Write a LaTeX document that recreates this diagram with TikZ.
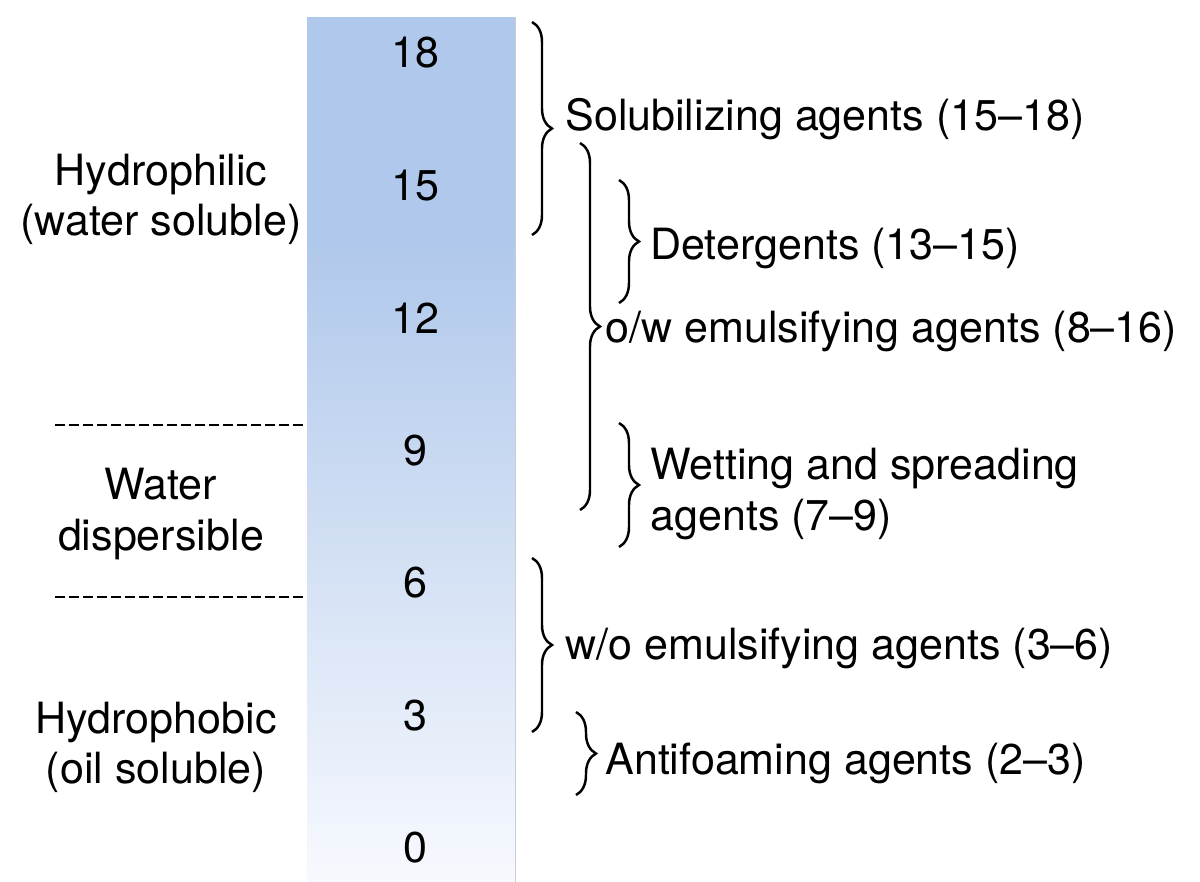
\documentclass[tikz,border=0pt]{standalone}
\usepackage{fontspec}
\setmainfont{TeX Gyre Heros}
\usetikzlibrary{decorations.pathreplacing,positioning}

\definecolor{barblue}{RGB}{176,200,235}
\definecolor{barpale}{RGB}{247,249,254}
\definecolor{baredge}{RGB}{200,206,216}
\pgfdeclareverticalshading{hlbshade}{100bp}{color(0bp)=(barpale); color(25bp)=(barpale); color(62bp)=(barblue); color(75bp)=(barblue); color(100bp)=(barblue)}

\begin{document}
\begin{tikzpicture}[
    x=0.02cm, y=-0.02cm,
    every node/.style={font=\fontsize{24.5}{28.5}\selectfont, inner sep=0pt},
    hlbbar/.style={shade, shading=hlbshade, minimum width=4.16cm, minimum height=17.3cm},
    zone/.style={align=center},
    uselabel/.style={align=left, anchor=west},
    hlbbrace/.style={decorate, decoration={brace, amplitude=0.4cm}, line width=1.4pt},
    divider/.style={dash pattern=on 0.2cm off 0.08cm, line width=0.8pt}
  ]
  \useasboundingbox (0,0) rectangle (1200,882);

  % HLB scale
  \node[hlbbar] (bar) at (411,449.5) {};
  \draw[baredge, line width=0.6pt] (bar.north east) -- (bar.south east);
  \node (n18) at (415,53) {18};
  \node (n15) at (415,186) {15};
  \node (n12) at (415,318) {12};
  \node (n9) at (415,451) {9};
  \node (n6) at (415,583) {6};
  \node (n3) at (415,716) {3};
  \node (n0) at (415,848) {0};

  % zones on the left
  \draw[divider] (55,425) -- (bar.west |- 0,425);
  \draw[divider] (55,597) -- (bar.west |- 0,597);
  \node[zone] (philic) at (161,199) {Hydrophilic\\(water soluble)};
  \node[zone] (disp) at (161,514) {Water\\dispersible};
  \node[zone] (phobic) at (156,747) {Hydrophobic\\(oil soluble)};

  % uses on the right
  \coordinate (sol top) at (532,22);
  \coordinate (sol bot) at (532,235);
  \coordinate (ow top) at (580,143);
  \coordinate (ow bot) at (580,510);
  \coordinate (det top) at (619,180);
  \coordinate (det bot) at (619,303);
  \coordinate (wet top) at (619,423);
  \coordinate (wet bot) at (619,547);
  \coordinate (wo top) at (532,558);
  \coordinate (wo bot) at (532,732);
  \coordinate (anti top) at (576,712);
  \coordinate (anti bot) at (576,795);

  \draw[hlbbrace] (sol top) -- (sol bot);
  \draw[hlbbrace] (ow top) -- (ow bot);
  \draw[hlbbrace] (det top) -- (det bot);
  \draw[hlbbrace] (wet top) -- (wet bot);
  \draw[hlbbrace] (wo top) -- (wo bot);
  \draw[hlbbrace] (anti top) -- (anti bot);

  \node[uselabel] (sol) at (565,119) {Solubilizing agents (15--18)};
  \node[uselabel] (ow) at (605,331) {o/w emulsifying agents (8--16)};
  \node[uselabel] (det) at (650,248) {Detergents (13--15)};
  \node[uselabel] (wet) at (650,494) {Wetting and spreading\\agents (7--9)};
  \node[uselabel] (wo) at (565,648) {w/o emulsifying agents (3--6)};
  \node[uselabel] (anti) at (605,763) {Antifoaming agents (2--3)};
\end{tikzpicture}
\end{document}
